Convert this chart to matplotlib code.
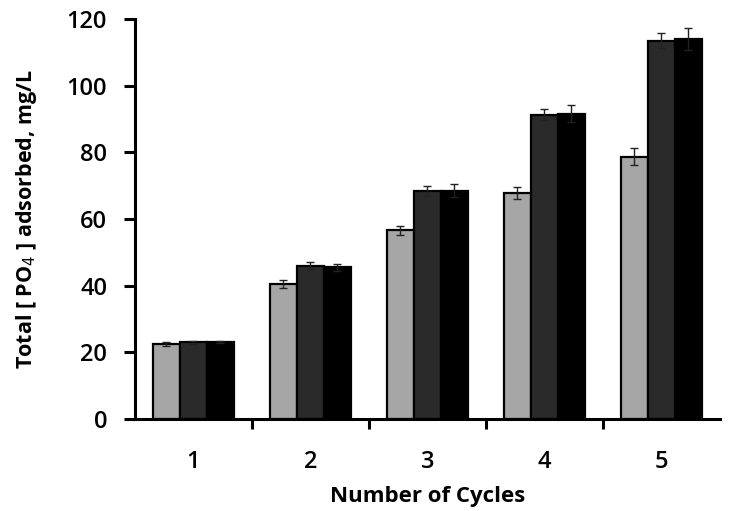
import matplotlib.pyplot as plt
import numpy as np

plt.rcParams['font.family'] = ['Open Sans', 'DejaVu Sans']

cycles = ['1', '2', '3', '4', '5']
series_a = [22.5, 40.5, 56.6, 67.8, 78.7]
series_b = [23.0, 46.0, 68.5, 91.3, 113.5]
series_c = [23.2, 45.5, 68.5, 91.6, 114.0]
err_a = [0.7, 1.2, 1.3, 1.8, 2.5]
err_b = [0.4, 1.0, 1.5, 1.6, 2.2]
err_c = [0.3, 1.0, 2.0, 2.5, 3.3]

colors = ['#a6a6a6', '#2a2a2a', '#000000']

fig = plt.figure(figsize=(7.33, 5.11), dpi=100)
ax = fig.add_axes([0.184, 0.180, 0.798, 0.783])

x = np.arange(1, len(cycles) + 1)
w = 0.23
for i, (vals, errs) in enumerate([(series_a, err_a), (series_b, err_b), (series_c, err_c)]):
    ax.bar(x + (i - 1) * w, vals, w, color=colors[i], edgecolor='black', linewidth=1.6,
           yerr=errs, error_kw=dict(ecolor='#222222', elinewidth=1.0, capsize=3, capthick=1.0),
           zorder=2)

ax.set_xlim(0.5, 5.5)
ax.set_ylim(0, 120)
ax.set_yticks(np.arange(0, 121, 20))
ax.set_xticks(x)
ax.set_xticklabels(cycles)
ax.set_xticks(np.arange(1.5, 5.5, 1), minor=True)

for s in ['top', 'right']:
    ax.spines[s].set_visible(False)
for s in ['left', 'bottom']:
    ax.spines[s].set_linewidth(2.2)

ax.tick_params(axis='y', which='major', length=8, width=2.2, labelsize=17, pad=12)
ax.tick_params(axis='x', which='major', length=0, labelsize=17, pad=22)
ax.tick_params(axis='x', which='minor', length=7, width=2.2, direction='out')
for lbl in ax.get_xticklabels() + ax.get_yticklabels():
    lbl.set_fontweight('semibold')

ax.set_xlabel('Number of Cycles', fontsize=16, fontweight='bold', labelpad=9)
ax.set_ylabel('Total [ PO$_4$ ] adsorbed, mg/L', fontsize=15.5, fontweight='bold', labelpad=20)

fig.savefig('out.png', dpi=100)
